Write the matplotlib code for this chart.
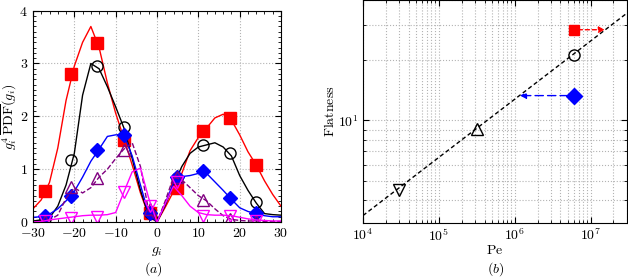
import matplotlib
matplotlib.use('Agg')
import matplotlib.pyplot as plt
import numpy as np
from matplotlib.ticker import MultipleLocator, LogLocator, NullFormatter

plt.rcParams['font.family'] = 'serif'
plt.rcParams['font.serif'] = ['cmr10']
plt.rcParams['mathtext.fontset'] = 'cm'
plt.rcParams['axes.formatter.use_mathtext'] = True
plt.rcParams['font.size'] = 10

# ---- panel (a): premultiplied PDFs ----
g = np.arange(-30, 31, 2)
pdf_red = [0.25, 0.42, 0.75, 1.4, 2.3, 2.95, 3.4, 3.7, 3.3, 2.63, 2.06, 1.58, 1.08, 0.55, 0.12, 0.0,
           0.28, 0.58, 0.92, 1.35, 1.6, 1.78, 1.97, 2.04, 1.93, 1.65, 1.33, 1.08, 0.78, 0.52, 0.3]
pdf_black = [0.02, 0.04, 0.08, 0.3, 0.7, 1.3, 2.4, 3.0, 2.9, 2.56, 2.18, 1.78, 1.2, 0.6, 0.12, 0.0,
             0.32, 0.7, 1.05, 1.3, 1.42, 1.46, 1.5, 1.42, 1.25, 0.88, 0.6, 0.36, 0.16, 0.14, 0.13]
pdf_blue = [0.09, 0.1, 0.15, 0.25, 0.4, 0.58, 0.85, 1.15, 1.38, 1.62, 1.65, 1.65, 1.25, 0.7, 0.15, 0.0,
            0.35, 0.75, 0.86, 0.88, 0.92, 0.92, 0.76, 0.6, 0.43, 0.27, 0.2, 0.16, 0.12, 0.1, 0.1]
pdf_purple = [0.0, 0.01, 0.04, 0.13, 0.45, 0.65, 0.55, 0.65, 0.85, 1.0, 1.2, 1.38, 1.5, 1.05, 0.2, 0.0,
              0.4, 0.85, 0.8, 0.65, 0.5, 0.4, 0.25, 0.12, 0.05, 0.03, 0.02, 0.02, 0.01, 0.01, 0.01]
pdf_magenta = [0.0, 0.01, 0.04, 0.06, 0.08, 0.1, 0.12, 0.13, 0.13, 0.14, 0.18, 0.57, 0.95, 1.02, 0.45, 0.0,
               0.35, 0.68, 0.5, 0.3, 0.18, 0.14, 0.13, 0.13, 0.12, 0.09, 0.06, 0.04, 0.03, 0.02, 0.02]

g_mk = [-27, -20.7, -14.4, -8, -1.6, 4.8, 11.2, 17.6, 24]
mk_red = [0.58, 2.8, 3.38, 1.55, 0.18, 0.65, 1.72, 1.96, 1.08]
mk_black = [0.05, 1.17, 2.95, 1.80, 0.17, 0.84, 1.45, 1.30, 0.37]
mk_blue = [0.12, 0.49, 1.36, 1.65, 0.18, 0.85, 0.96, 0.45, 0.17]
mk_purple = [0.02, 0.66, 0.84, 1.37, 0.24, 0.86, 0.42, 0.06, 0.02]
mk_magenta = [0.02, 0.08, 0.1, 0.57, 0.3, 0.75, 0.11, 0.11, 0.02]

# ---- panel (b): flatness vs Pe ----
pe_pts = [3e4, 3.2e5, 6e6, 6e6, 6e6]
flat_pts = [4.5, 9.1, 21.2, 13.3, 28.4]
pe_arrow_red = 1.55e7
pe_arrow_blue = 1.17e6
fit_a, fit_b = 3.34, 0.291  # Flatness = a * (Pe/1e4)^b

fig = plt.figure(figsize=(6.28, 2.8), dpi=100)
ax1 = fig.add_axes([0.0525, 0.207, 0.395, 0.755])
ax2 = fig.add_axes([0.578, 0.204, 0.42, 0.796])

series = [
    (pdf_red, mk_red, 'red', 's', '-', 'red'),
    (pdf_black, mk_black, 'black', 'o', '-', 'none'),
    (pdf_blue, mk_blue, 'blue', 'D', '-', 'blue'),
    (pdf_purple, mk_purple, '#800080', '^', '--', 'none'),
    (pdf_magenta, mk_magenta, 'magenta', 'v', '-', 'none'),
]
for y, ym, c, m, ls, fc in series:
    ax1.plot(g, y, color=c, ls=ls, lw=1.0)
    ms = 7 if m == 'D' else 8
    ax1.plot(g_mk, ym, ls='none', marker=m, ms=ms, mfc=fc, mec=c, mew=1.0)

ax1.set_xlim(-30, 30)
ax1.set_ylim(0, 4)
ax1.xaxis.set_major_locator(MultipleLocator(10))
ax1.xaxis.set_minor_locator(MultipleLocator(2))
ax1.yaxis.set_major_locator(MultipleLocator(1))
ax1.yaxis.set_minor_locator(MultipleLocator(0.1))
ax1.grid(True, which='major', ls=':', color='0.7', lw=0.8)
ax1.tick_params(which='both', direction='in', top=True, right=True)
ax1.tick_params(which='major', length=4)
ax1.tick_params(which='minor', length=2)
ax1.set_xlabel(r'$g_i$', labelpad=4)
ax1.set_ylabel(r'$g_i^4\,\overline{\mathrm{PDF}}(g_i)$')
ax1.yaxis.set_label_coords(-0.058, 0.5)
fig.text(0.245, 0.04, r'$(a)$', ha='center', va='center')

# panel b
pe_line = np.array([1e4, 3e7])
ax2.plot(pe_line, fit_a * (pe_line / 1e4) ** fit_b, color='black', ls=(0, (3, 2)), lw=1.0)
ax2.plot(pe_pts[0], flat_pts[0], 'v', ms=9, mfc='none', mec='black')
ax2.plot(pe_pts[1], flat_pts[1], '^', ms=9, mfc='none', mec='black')
ax2.plot(pe_pts[2], flat_pts[2], 'o', ms=8, mfc='none', mec='black')
ax2.plot(pe_pts[3], flat_pts[3], 'D', ms=8, mfc='blue', mec='blue')
ax2.plot(pe_pts[4], flat_pts[4], 's', ms=7, mfc='red', mec='red')
ax2.annotate('', xy=(pe_arrow_red, flat_pts[4]), xytext=(pe_pts[4] * 1.15, flat_pts[4]),
             arrowprops=dict(arrowstyle='-|>', color='red', ls=(0, (3, 2)), lw=1.0,
                             mutation_scale=9, shrinkA=0, shrinkB=0))
ax2.annotate('', xy=(pe_arrow_blue, flat_pts[3]), xytext=(pe_pts[3] * 0.85, flat_pts[3]),
             arrowprops=dict(arrowstyle='-|>', color='blue', ls=(0, (6, 3)), lw=1.0,
                             mutation_scale=9, shrinkA=0, shrinkB=0))
ax2.set_xscale('log')
ax2.set_yscale('log')
ax2.set_xlim(1e4, 3e7)
ax2.set_ylim(3.07, 40)
ax2.yaxis.set_major_locator(LogLocator(base=10, numticks=10))
ax2.yaxis.set_minor_locator(LogLocator(base=10, subs=np.arange(2, 10), numticks=10))
ax2.yaxis.set_minor_formatter(NullFormatter())
ax2.xaxis.set_minor_formatter(NullFormatter())
ax2.grid(True, which='both', ls=':', color='0.7', lw=0.8)
ax2.tick_params(which='both', direction='in', top=True, right=True)
ax2.tick_params(which='major', length=4)
ax2.tick_params(which='minor', length=2)
ax2.set_xlabel(r'$\mathrm{Pe}$', labelpad=0)
ax2.set_ylabel(r'$\mathrm{Flatness}$')
ax2.yaxis.set_label_coords(-0.098, 0.5)
fig.text(0.79, 0.04, r'$(b)$', ha='center', va='center')

fig.savefig('out.png', dpi=100)
